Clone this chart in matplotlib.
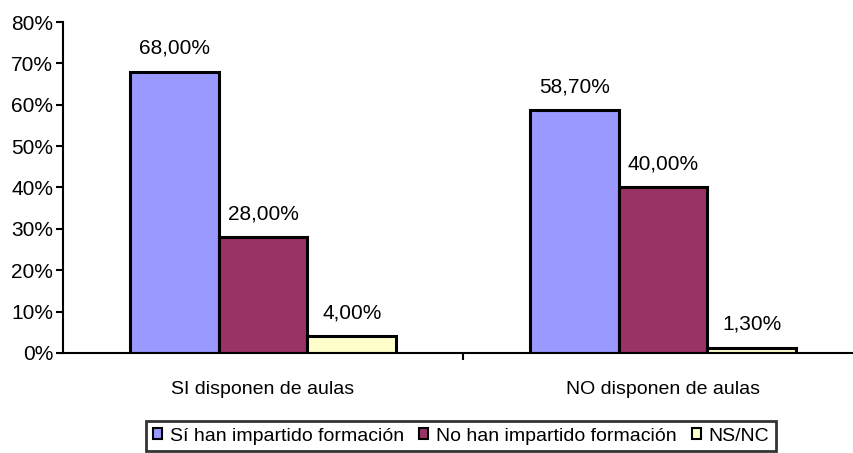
import matplotlib
matplotlib.use("Agg")
import matplotlib.pyplot as plt
import numpy as np

plt.rcParams['font.family'] = ['Liberation Sans', 'DejaVu Sans']

categories = ["SI disponen de aulas", "NO disponen de aulas"]
series = ["Sí han impartido formación", "No han impartido formación", "NS/NC"]
values = [
    [68.0, 58.7],
    [28.0, 40.0],
    [4.0, 1.3],
]
colors = ["#9999FF", "#993366", "#FFFFCC"]

fig = plt.figure(figsize=(8.54, 4.53), dpi=100)
ax = fig.add_axes([0.0738, 0.2208, 0.9368, 0.7306])

x = np.arange(len(categories))
w = 0.222
for i, (name, vals, c) in enumerate(zip(series, values, colors)):
    pos = x + (i - 1) * w
    ax.bar(pos, vals, width=w, color=c, edgecolor="black", linewidth=2.2, label=name)
    for p, v in zip(pos, vals):
        ax.annotate(("%.2f%%" % v).replace(".", ","), (p, v), xytext=(0, 10),
                    textcoords="offset points", ha="center", va="bottom", fontsize=15)

ax.set_xlim(-0.5, 1.5)
ax.set_ylim(0, 80)
ax.set_yticks(range(0, 81, 10))
ax.set_yticklabels(["%d%%" % t for t in range(0, 81, 10)], fontsize=15)
ax.set_xticks(x)
ax.set_xticklabels(categories, fontsize=14)
ax.tick_params(axis="x", length=0, pad=20)
ax.set_xticks([0.5], minor=True)
ax.tick_params(axis="x", which="minor", length=5, width=1.5)
ax.tick_params(axis="y", length=5, width=1.5, pad=2)
for s in ["top", "right"]:
    ax.spines[s].set_visible(False)
ax.spines["left"].set_linewidth(1.5)
ax.spines["bottom"].set_linewidth(1.5)

leg = fig.legend(loc="center", bbox_to_anchor=(0.54, 0.0375), ncol=3, fontsize=14,
                 frameon=True, fancybox=False, handlelength=0.45, handleheight=0.45,
                 handletextpad=0.4, columnspacing=0.8, borderpad=0.35, borderaxespad=0)
leg.get_frame().set_edgecolor("black")
leg.get_frame().set_linewidth(2)
for h in leg.legend_handles:
    h.set_linewidth(1.5)

fig.savefig("out.png", dpi=100)
